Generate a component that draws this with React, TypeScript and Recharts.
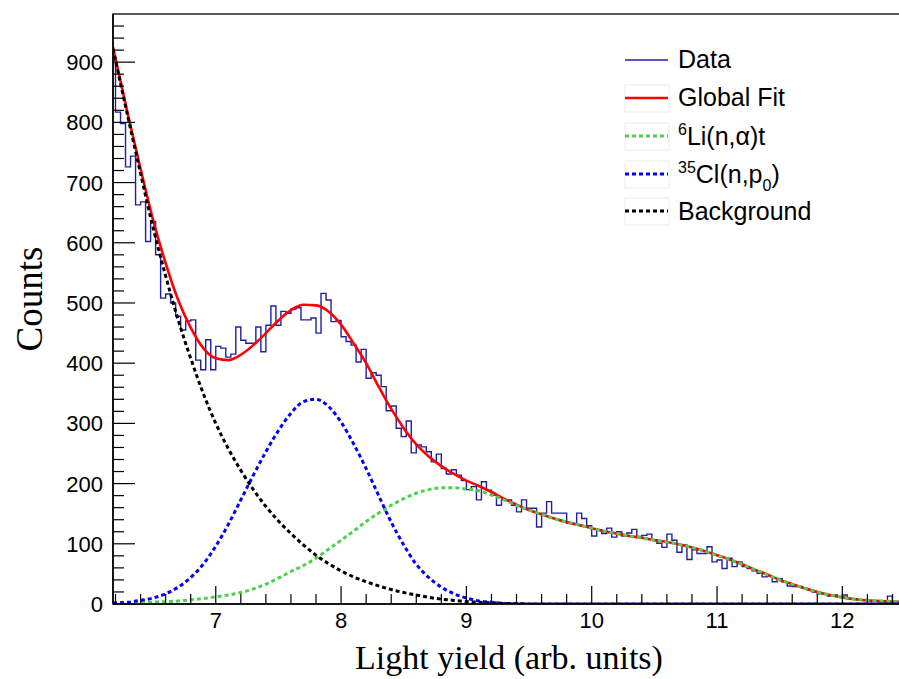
import React from "react";
import { ComposedChart, Line, XAxis, YAxis, ReferenceArea } from "recharts";

// histogram: 0.04 wide bins starting at 6.16
const binStart = 6.16;
const binWidth = 0.04;
const counts = [
  903, 817, 798, 726, 744, 663, 668, 602, 635, 580,
  508, 515, 500, 478, 455, 470, 472, 405, 389, 439,
  389, 428, 425, 410, 415, 460, 438, 433, 433, 460,
  419, 463, 495, 463, 486, 483, 490, 492, 472, 472,
  475, 450, 516, 505, 469, 471, 444, 436, 430, 402,
  423, 375, 384, 380, 361, 321, 329, 292, 278, 304,
  251, 264, 261, 253, 236, 249, 225, 216, 223, 214,
  205, 190, 195, 173, 203, 189, 181, 164, 173, 173,
  164, 153, 173, 159, 159, 128, 151, 170, 151, 151,
  151, 134, 134, 151, 142, 130, 113, 123, 117, 126,
  111, 120, 113, 118, 124, 112, 114, 116, 107, 101,
  94, 116, 106, 86, 98, 74, 90, 84, 84, 95,
  70, 73, 59, 76, 62, 70, 62, 59, 55, 51,
  45, 47, 37, 42, 37, 30, 29, 29, 26, 23,
  20, 17, 17, 13, 15, 11, 15, 9, 9, 7,
  6, 5, 5, 4, 4, 13, 4, 3,
];

// fit curves sampled along x
const curveX = [
  6.18, 6.3, 6.4, 6.5, 6.6, 6.7, 6.8, 6.9, 7.0,
  7.1, 7.2, 7.3, 7.4, 7.5, 7.6, 7.7, 7.8, 7.9, 8.0,
  8.1, 8.2, 8.3, 8.4, 8.5, 8.6, 8.7, 8.8, 8.9, 9.0,
  9.1, 9.2, 9.3, 9.4, 9.5, 9.6, 9.7, 9.8, 9.9, 10.0,
  10.1, 10.2, 10.3, 10.4, 10.5, 10.6, 10.7, 10.8, 10.9, 11.0,
  11.1, 11.2, 11.3, 11.4, 11.5, 11.6, 11.7, 11.8, 11.9, 12.0,
  12.1, 12.2, 12.3, 12.4, 12.5,
];
const globalFit = [
  925, 812, 723, 638, 566, 505, 459, 425, 408,
  405, 414, 430, 450, 471, 488, 497, 496, 486, 464,
  433, 400, 361, 324, 292, 265, 245, 229, 216, 205,
  196, 186, 175, 165, 156, 149, 142, 136, 131, 126,
  121, 117, 113, 110, 106, 103, 99, 94, 88, 81,
  74, 66, 57, 49, 40, 33, 26, 20, 15, 11,
  8, 6, 5, 4, 3,
];
const lithium = [
  1, 1, 2, 3, 4, 5, 7, 9, 12,
  15, 19, 25, 33, 43, 54, 64, 76, 91, 106,
  121, 137, 151, 164, 175, 184, 190, 193, 193, 191,
  188, 181, 173, 164, 156, 149, 142, 136, 131, 126,
  121, 117, 113, 110, 106, 103, 99, 94, 88, 81,
  74, 66, 57, 49, 40, 33, 26, 20, 15, 11,
  8, 6, 5, 4, 3,
];
const chlorine = [
  2, 3, 6, 10, 17, 28, 44, 66, 96,
  132, 173, 214, 253, 288, 317, 336, 340, 328, 302,
  266, 225, 180, 136, 98, 66, 44, 28, 17, 10,
  5, 3, 1, 0, 0, 0, 0, 0, 0, 0,
  0, 0, 0, 0, 0, 0, 0, 0, 0, 0,
  0, 0, 0, 0, 0, 0, 0, 0, 0, 0,
  0, 0, 0, 0, 0,
];
const background = [
  922, 808, 715, 625, 545, 472, 408, 350, 300,
  258, 222, 190, 162, 138, 117, 98, 81, 67, 55,
  45, 37, 30, 24, 19, 15, 11, 8, 6, 4,
  3, 2, 1, 1, 0, 0, 0, 0, 0, 0,
  0, 0, 0, 0, 0, 0, 0, 0, 0, 0,
  0, 0, 0, 0, 0, 0, 0, 0, 0, 0,
  0, 0, 0, 0, 0,
];

const xMajor = [7, 8, 9, 10, 11, 12];
const yMajor = [0, 100, 200, 300, 400, 500, 600, 700, 800, 900];

const xTicks = Array.from({ length: 32 }, (_, i) => Math.round((6.2 + i * 0.2) * 10) / 10);
const yTicks = Array.from({ length: 49 }, (_, i) => i * 20);

const histData = counts.map((c, i) => ({ x: Math.round((binStart + i * binWidth) * 100) / 100, y: c }));
histData.push({ x: Math.round((binStart + counts.length * binWidth) * 100) / 100, y: counts[counts.length - 1] });

const curve = (vals: number[]) => curveX.map((x, i) => ({ x, y: vals[i] }));

const PLOT_LEFT = 113;
const PLOT_BOTTOM = 604;
const SANS = "'Liberation Sans', Arial, Helvetica, sans-serif";
const SERIF = "'Liberation Serif', 'Times New Roman', serif";

function XTick(props: any) {
  const { x, payload } = props;
  const major = xMajor.includes(payload.value);
  return (
    <g>
      <line x1={x} x2={x} y1={PLOT_BOTTOM} y2={PLOT_BOTTOM - (major ? 18 : 10)} stroke="#000" strokeWidth={1.2} />
      {major && (
        <text x={x} y={628} textAnchor="middle" fontSize={22} fontFamily={SANS} fill="#000">
          {payload.value}
        </text>
      )}
    </g>
  );
}

function YTick(props: any) {
  const { y, payload } = props;
  const major = yMajor.includes(payload.value);
  return (
    <g>
      <line x1={PLOT_LEFT} x2={PLOT_LEFT + (major ? 22 : 11)} y1={y} y2={y} stroke="#000" strokeWidth={1.2} />
      {major && (
        <text x={103} y={y + 8} textAnchor="end" fontSize={22} fontFamily={SANS} fill="#000">
          {payload.value}
        </text>
      )}
    </g>
  );
}

const legendRows = [
  { y: 60, color: "#1f1fa3", width: 1.5, dash: undefined, box: false },
  { y: 98, color: "#ff0000", width: 2.5, dash: undefined, box: true },
  { y: 136, color: "#4fcf4f", width: 3, dash: "4 3", box: true },
  { y: 174, color: "#0000ff", width: 3, dash: "4 3", box: true },
  { y: 211, color: "#000000", width: 3, dash: "4 3", box: true },
];

function Overlay() {
  return (
    <svg width={899} height={679} style={{ position: "absolute", left: 0, top: 0, pointerEvents: "none" }}>
      <text x={509} y={669} textAnchor="middle" fontSize={34} fontFamily={SERIF} fill="#000">
        Light yield (arb. units)
      </text>
      <text transform="translate(42,299) rotate(-90)" textAnchor="middle" fontSize={37} fontFamily={SERIF} fill="#000">
        Counts
      </text>
      {legendRows.map((r, i) => (
        <g key={i}>
          {r.box && <rect x={625} y={r.y - 13} width={44} height={27} fill="none" stroke="#ececec" />}
          <line x1={625} x2={668} y1={r.y} y2={r.y} stroke={r.color} strokeWidth={r.width} strokeDasharray={r.dash} />
        </g>
      ))}
      <g fontFamily={SANS} fontSize={25} fill="#000">
        <text x={678} y={68}>Data</text>
        <text x={678} y={106}>Global Fit</text>
        <text x={678} y={145}>
          <tspan fontSize={16} dy={-10}>6</tspan>
          <tspan dy={10}>Li(n,α)t</tspan>
        </text>
        <text x={678} y={183}>
          <tspan fontSize={16} dy={-10}>35</tspan>
          <tspan dy={10}>Cl(n,p</tspan>
          <tspan fontSize={16} dy={8}>0</tspan>
          <tspan dy={-8}>)</tspan>
        </text>
        <text x={678} y={220}>Background</text>
      </g>
    </svg>
  );
}

export default function App() {
  return (
    <div style={{ position: "relative", width: 899, height: 679, overflow: "hidden", background: "#fff" }}>
      <style>{"html,body{margin:0;padding:0;overflow:hidden;}"}</style>
      <div style={{ position: "absolute", left: 0, top: 0, width: 910, height: 679 }}>
        <ComposedChart width={910} height={679} margin={{ top: 14, right: 5, left: 0, bottom: 0 }}>
          <XAxis
            type="number"
            dataKey="x"
            domain={[6.18, 12.5]}
            allowDataOverflow
            ticks={xTicks}
            interval={0}
            tick={<XTick />}
            tickLine={false}
            tickSize={0}
            tickMargin={0}
            axisLine={{ stroke: "#000", strokeWidth: 1.5 }}
            height={75}
          />
          <YAxis
            type="number"
            domain={[0, 980]}
            allowDataOverflow
            ticks={yTicks}
            interval={0}
            tick={<YTick />}
            tickLine={false}
            tickSize={0}
            tickMargin={0}
            axisLine={{ stroke: "#000", strokeWidth: 1.5 }}
            width={113}
          />
          <ReferenceArea x1={6.18} x2={12.5} y1={0} y2={980} fill="none" stroke="#222" strokeWidth={1.5} />
          <Line data={histData} dataKey="y" type="stepAfter" stroke="#1f1fa3" strokeWidth={1.4} dot={false} isAnimationActive={false} />
          <Line data={curve(globalFit)} dataKey="y" type="monotone" stroke="#ff0000" strokeWidth={2.6} dot={false} isAnimationActive={false} />
          <Line data={curve(lithium)} dataKey="y" type="monotone" stroke="#4fcf4f" strokeWidth={3} strokeDasharray="4 3" dot={false} isAnimationActive={false} />
          <Line data={curve(chlorine)} dataKey="y" type="monotone" stroke="#0000ff" strokeWidth={3} strokeDasharray="4 3" dot={false} isAnimationActive={false} />
          <Line data={curve(background)} dataKey="y" type="monotone" stroke="#000000" strokeWidth={3} strokeDasharray="4 3" dot={false} isAnimationActive={false} />
        </ComposedChart>
      </div>
      <Overlay />
    </div>
  );
}
